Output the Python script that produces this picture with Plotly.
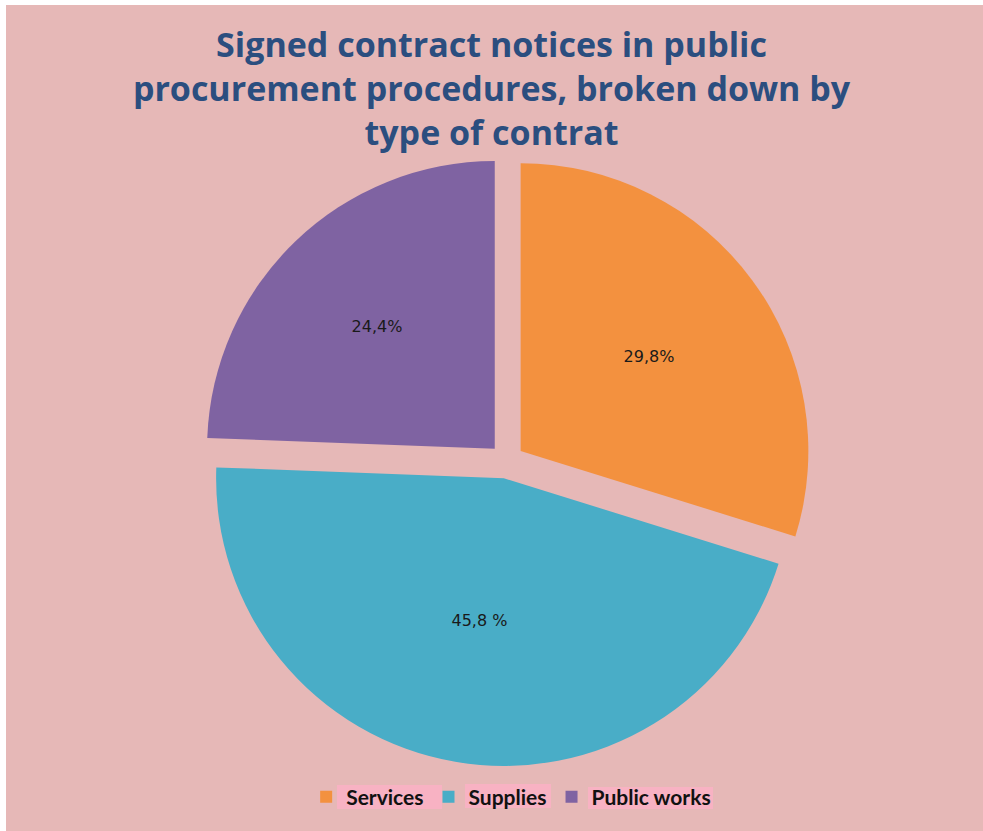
import plotly.graph_objects as go

# Contract types and their share of signed contract notices (%)
contract_types = ["Services", "Supplies", "Public works"]
shares = [29.8, 45.8, 24.4]
share_labels = ["29,8%", "45,8 %", "24,4%"]
slice_colors = ["#F3913F", "#49ADC7", "#7F63A2"]

W, H = 983, 831
BG = "#E6B8B7"
HIGHLIGHT = "#F8B2C3"


def px_rect(x0, x1, y0, y1, color, layer="below"):
    """Rectangle given in pixels from the top-left corner of the figure."""
    return dict(type="rect", xref="paper", yref="paper",
                x0=x0 / W, x1=x1 / W, y0=1 - y1 / H, y1=1 - y0 / H,
                fillcolor=color, line=dict(width=0), layer=layer)


fig = go.Figure(
    go.Pie(
        labels=contract_types,
        values=shares,
        text=share_labels,
        textinfo="text",
        textposition="inside",
        insidetextorientation="horizontal",
        textfont=dict(family="DejaVu Sans", size=16, color="#1a1a1a"),
        marker=dict(colors=slice_colors, line=dict(width=0)),
        sort=False,
        direction="clockwise",
        rotation=0,
        pull=[0.06, 0.06, 0.06],
        domain=dict(x=[0.205, 0.826], y=[0.078, 0.812]),
        showlegend=True,
    )
)

fig.update_layout(
    width=W,
    height=H,
    margin=dict(l=0, r=0, t=0, b=0),
    paper_bgcolor=BG,
    title=dict(
        text="Signed contract notices in public<br>procurement procedures, broken down by<br>type of contrat",
        x=0.5,
        xanchor="center",
        xref="container",
        y=1 - 57 / H,
        yanchor="top",
        yref="container",
        font=dict(family="Open Sans", size=34, color="#2B4E7F", weight="bold"),
    ),
    legend=dict(
        orientation="h",
        x=0.52,
        xanchor="center",
        y=(H - 797) / H,
        yanchor="middle",
        bgcolor="rgba(0,0,0,0)",
        font=dict(family="Lato", size=21, color="#111111", weight="bold"),
        itemwidth=30,
    ),
    shapes=[
        # thin white frame on the top and left edges
        px_rect(0, W, 0, 5, "white", "above"),
        px_rect(0, 6, 0, H, "white", "above"),
        # light highlight boxes behind the legend labels
        px_rect(337, 442, 785, 809, HIGHLIGHT, "above"),
        px_rect(465, 551, 784, 808, HIGHLIGHT, "above"),
        px_rect(588, 713, 787, 809, HIGHLIGHT, "above"),
    ],
)

fig.write_html("out.html")
